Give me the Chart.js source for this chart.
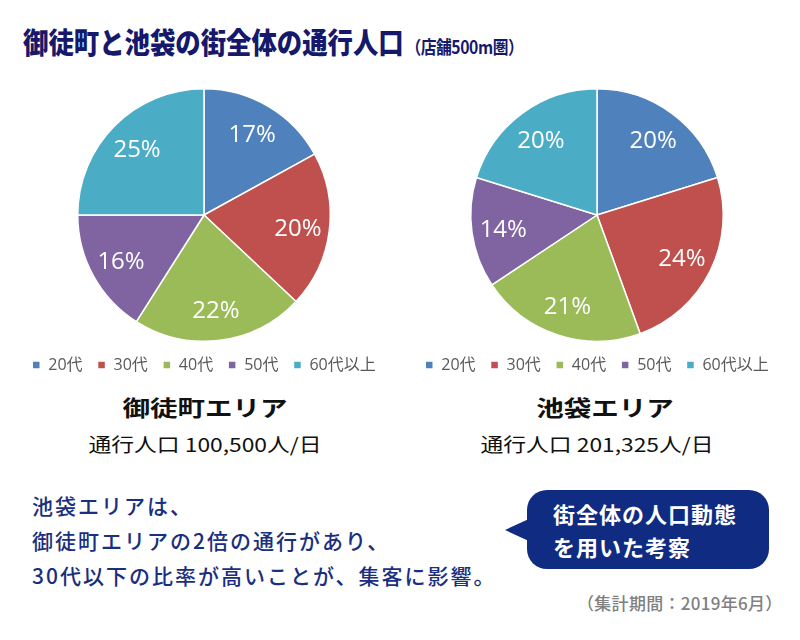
<!DOCTYPE html>
<html lang="ja">
<head>
<meta charset="utf-8">
<script src="https://cdn.jsdelivr.net/npm/chart.js@4.4.0/dist/chart.umd.min.js"></script>
<style>
  html, body { margin: 0; padding: 0; background: #ffffff; }
  body { width: 800px; height: 640px; position: relative; overflow: hidden;
         font-family: "Noto Sans CJK JP", "Noto Sans", sans-serif; }
  .abs { position: absolute; white-space: nowrap; }
  #title { left: 23px; top: 27px; font-size: 29px; font-weight: 900; color: #16196b;
           letter-spacing: 0px; line-height: 1; transform: scaleX(0.875); transform-origin: left center; }
  #title small { font-size: 18px; font-weight: 700; letter-spacing: -0.5px; margin-left: 2px; }
  .areaTitle { font-size: 22px; font-weight: 700; color: #111; line-height: 1;
               transform: translateX(-50%) scaleX(1.25); }
  .areaSub { font-size: 19px; font-weight: 400; color: #111; line-height: 1;
             transform: translateX(-50%) scaleX(1.2); }
  #note { left: 32px; top: 488px; font-size: 21px; color: #1a2f80; font-weight: 500;
          letter-spacing: 2px; line-height: 35px; }
  #bubble { left: 527px; top: 490px; width: 242px; height: 79px; background: #0f2b82;
            border-radius: 20px; }
  #pointer { left: 505px; top: 518px; width: 26px; height: 24px; background: #0f2b82;
             clip-path: polygon(0 50%, 100% 0, 100% 100%); }
  #bubbleText { left: 553px; top: 497px; font-size: 22px; font-weight: 700; color: #fff;
                line-height: 33px; letter-spacing: 1px; }
  #caption { left: 577px; top: 594px; font-size: 17px; color: #808080; line-height: 1; letter-spacing: 0.3px; font-weight: 500; }
  canvas { position: absolute; }
</style>
</head>
<body>
<div id="title" class="abs">御徒町と池袋の街全体の通行人口<small>（店舗500m圏）</small></div>

<canvas id="c1" width="400" height="303" style="left:4px; top:80px;"></canvas>
<canvas id="c2" width="400" height="303" style="left:397px; top:80px;"></canvas>

<div class="abs areaTitle" id="t1" style="left:205px; top:395px;"></div>
<div class="abs areaSub" id="s1" style="left:205px; top:434px;"></div>
<div class="abs areaTitle" id="t2" style="left:605px; top:395px;"></div>
<div class="abs areaSub" id="s2" style="left:597px; top:434px;"></div>

<div id="note" class="abs">池袋エリアは、<br>御徒町エリアの2倍の通行があり、<br>30代以下の比率が高いことが、集客に影響。</div>

<div id="pointer" class="abs"></div>
<div id="bubble" class="abs"></div>
<div id="bubbleText" class="abs">街全体の人口動態<br>を用いた考察</div>
<div id="caption" class="abs">（集計期間：2019年6月）</div>

<script>
// ---- data ----
const categories = ["20代", "30代", "40代", "50代", "60代以上"];
const okachimachiShares = [17, 20, 22, 16, 25];
const ikebukuroShares = [20, 24, 21, 14, 20];
const areaNames = ["御徒町エリア", "池袋エリア"];
const areaTraffic = ["通行人口 100,500人/日", "通行人口 201,325人/日"];
const sliceColors = ["#4f81bd", "#c0504d", "#9bbb59", "#8064a2", "#4bacc6"];

document.getElementById("t1").textContent = areaNames[0];
document.getElementById("t2").textContent = areaNames[1];
document.getElementById("s1").textContent = areaTraffic[0];
document.getElementById("s2").textContent = areaTraffic[1];

const pctLabels = {
  id: "pctLabels",
  afterDatasetsDraw(chart) {
    const ctx = chart.ctx;
    const meta = chart.getDatasetMeta(0);
    const data = chart.data.datasets[0].data;
    ctx.save();
    ctx.fillStyle = "#ffffff";
    ctx.font = '24px "Open Sans", "Noto Sans", sans-serif';
    ctx.textAlign = "center";
    ctx.textBaseline = "middle";
    meta.data.forEach((arc, i) => {
      const p = arc.getProps(["x", "y", "startAngle", "endAngle", "outerRadius"], true);
      const mid = (p.startAngle + p.endAngle) / 2;
      const r = p.outerRadius * 0.75;
      ctx.fillText(data[i] + "%", p.x + Math.cos(mid) * r, p.y + Math.sin(mid) * r + 2);
    });
    ctx.restore();
  }
};

function makePie(id, values) {
  return new Chart(document.getElementById(id), {
    type: "pie",
    data: {
      labels: categories,
      datasets: [{ data: values, backgroundColor: sliceColors, borderColor: "#ffffff", borderWidth: 1.5 }]
    },
    options: {
      responsive: false,
      animation: false,
      layout: { padding: { top: 8, bottom: 0, left: 0, right: 0 } },
      plugins: {
        tooltip: { enabled: false },
        legend: {
          position: "bottom",
          labels: {
            boxWidth: 8, boxHeight: 8, padding: 15, color: "#595959",
            font: { size: 16, family: '"Open Sans", "Noto Sans CJK JP", sans-serif' }
          }
        }
      }
    },
    plugins: [pctLabels]
  });
}
makePie("c1", okachimachiShares);
makePie("c2", ikebukuroShares);
</script>
</body>
</html>
